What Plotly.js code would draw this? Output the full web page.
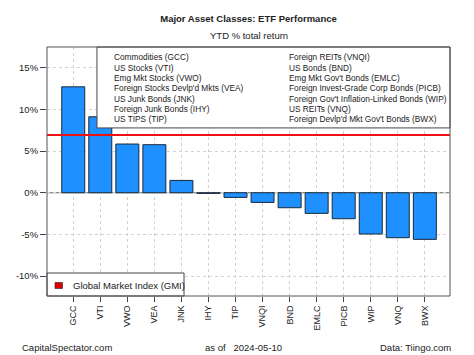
<!DOCTYPE html>
<html>
<head>
<meta charset="utf-8">
<script src="https://cdn.plot.ly/plotly-3.0.1.min.js"></script>
<style>html,body{margin:0;padding:0;background:#fff;}#chart{width:474px;height:355px;}</style>
</head>
<body>
<div id="chart"></div>
<script>
const tickers = ["GCC","VTI","VWO","VEA","JNK","IHY","TIP","VNQI","BND","EMLC","PICB","WIP","VNQ","BWX"];
const ytdReturns = [12.72, 9.12, 5.85, 5.77, 1.48, -0.08, -0.56, -1.16, -1.8, -2.48, -3.12, -4.96, -5.4, -5.6];
const gmiReturn = 6.93;
const legendCol1 = ["Commodities (GCC)","US Stocks (VTI)","Emg Mkt Stocks (VWO)","Foreign Stocks Devlp'd Mkts (VEA)","US Junk Bonds (JNK)","Foreign Junk Bonds (IHY)","US TIPS (TIP)"];
const legendCol2 = ["Foreign REITs (VNQI)","US Bonds (BND)","Emg Mkt Gov't Bonds (EMLC)","Foreign Invest-Grade Corp Bonds (PICB)","Foreign Gov't Inflation-Linked Bonds (WIP)","US REITs (VNQ)","Foreign Devlp'd Mkt Gov't Bonds (BWX)"];
const yTickVals = [-10, -5, 0, 5, 10, 15];
const yTickText = ["-10%","-5%","0%","5%","10%","15%"];

const idx = tickers.map((_, i) => i);
const FONT = "Liberation Sans, Arial, sans-serif";

const trace = {
  type: "bar",
  x: idx,
  y: ytdReturns,
  width: 0.85,
  marker: {color: "#1E90FF", line: {color: "#1a2a3a", width: 1}},
  hoverinfo: "skip"
};

const annotations = [];
const rowY = [0.9586, 0.9173, 0.8755, 0.8341, 0.7928, 0.7510, 0.7096];
legendCol1.forEach((t, i) => annotations.push({xref:"paper", yref:"paper", x:0.1605, y:rowY[i], xanchor:"left", yanchor:"middle", text:t, showarrow:false, font:{family:FONT, size:8.3, color:"#222"}}));
legendCol2.forEach((t, i) => annotations.push({xref:"paper", yref:"paper", x:0.5948, y:rowY[i], xanchor:"left", yanchor:"middle", text:t, showarrow:false, font:{family:FONT, size:8.3, color:"#222"}}));
annotations.push({xref:"paper", yref:"paper", x:0.0588, y:0.0414, xanchor:"left", yanchor:"middle", text:"Global Market Index (GMI)", showarrow:false, font:{family:FONT, size:9.5, color:"#222"}});
annotations.push({xref:"paper", yref:"paper", x:0.5, y:1.048, xanchor:"center", yanchor:"middle", text:"YTD % total return", showarrow:false, font:{family:FONT, size:9.5, color:"#222"}});
annotations.push({xref:"paper", yref:"paper", x:(20-47)/403, y:-0.207, xanchor:"left", yanchor:"middle", text:"CapitalSpectator.com", showarrow:false, font:{family:FONT, size:9.5, color:"#222"}});
annotations.push({xref:"paper", yref:"paper", x:(243-47)/403, y:-0.207, xanchor:"center", yanchor:"middle", text:"as of   2024-05-10", showarrow:false, font:{family:FONT, size:9.5, color:"#222"}});
annotations.push({xref:"paper", yref:"paper", x:(452.7-47)/403, y:-0.207, xanchor:"right", yanchor:"middle", text:"Data: Tiingo.com", showarrow:false, font:{family:FONT, size:9.5, color:"#222"}});

const shapes = [
  {type:"line", xref:"paper", yref:"y", x0:0, x1:1, y0:0, y1:0, line:{color:"#666", width:1}, layer:"below"},
  {type:"line", xref:"paper", yref:"y", x0:0, x1:1, y0:gmiReturn, y1:gmiReturn, line:{color:"#EE1111", width:2}, layer:"above"},
  {type:"rect", xref:"paper", yref:"paper", x0:0.124, x1:1, y0:0.675, y1:1, fillcolor:"#fff", line:{color:"#444", width:1}, layer:"above"},
  {type:"rect", xref:"paper", yref:"paper", x0:0, x1:0.340, y0:0, y1:0.0924, fillcolor:"#fff", line:{color:"#444", width:1}, layer:"above"},
  {type:"rect", xref:"paper", yref:"paper", x0:(55-47)/403, x1:(62.5-47)/403, y0:(296-288.5)/249, y1:(296-282.5)/249, fillcolor:"#DD0000", line:{color:"#222", width:0.6}, layer:"above"},
  {type:"rect", xref:"paper", yref:"paper", x0:0, x1:1, y0:0, y1:1, line:{color:"#555", width:1}, layer:"above"}
];

const layout = {
  width: 474, height: 355,
  margin: {l:47, r:24, t:47, b:59},
  paper_bgcolor: "#fff", plot_bgcolor: "#fff",
  showlegend: false,
  bargap: 0,
  title: {text:"<b>Major Asset Classes: ETF Performance</b>", x:0.5, xref:"paper", xanchor:"center", y:1-19/355, yref:"container", yanchor:"middle", font:{family:FONT, size:9.5, color:"#222"}},
  xaxis: {
    range: [-0.97, 13.93], tickmode:"array", tickvals: idx, ticktext: tickers, tickangle: -90,
    ticks: "outside", ticklen: 5, tickcolor: "#444", tickfont:{family:FONT, size:9, color:"#222"},
    showgrid: true, gridcolor: "#d2d2d2", griddash: "dot", gridwidth: 1, zeroline: false, showline: false, fixedrange:true
  },
  yaxis: {
    range: [-12.4, 17.5], tickmode:"array", tickvals: yTickVals, ticktext: yTickText,
    ticks: "outside", ticklen: 6, tickcolor: "#444", tickfont:{family:FONT, size:9.5, color:"#222"},
    showgrid: true, gridcolor: "#d2d2d2", griddash: "dot", gridwidth: 1, zeroline: false, showline: false, fixedrange:true
  },
  shapes: shapes,
  annotations: annotations
};

Plotly.newPlot("chart", [trace], layout, {displayModeBar:false, staticPlot:true});
</script>
</body>
</html>
